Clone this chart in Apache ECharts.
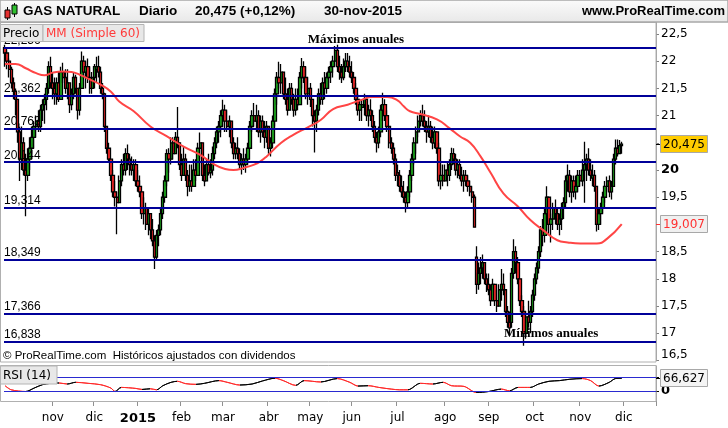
<!DOCTYPE html>
<html><head><meta charset="utf-8">
<script src="https://cdn.jsdelivr.net/npm/echarts@6/dist/echarts.min.js"></script>
<style>html,body{margin:0;padding:0;background:#fff}#c{width:728px;height:428px}</style>
</head><body><div id="c"></div>
<script>
// ---- daily candles, Oct 1 2014 .. Nov 30 2015 (index 0..297) ----
const opens = [
22.25,22.15,22.0,21.85,21.6,21.45,21.3,20.7,20.2,20.5,
20.0,19.9,20.2,20.4,20.6,20.8,20.9,20.8,21.1,21.2,
21.3,21.5,21.9,21.6,21.5,21.4,21.6,21.3,21.8,21.7,
21.5,21.6,21.2,21.4,21.7,21.5,21.1,21.5,22.0,21.8,
21.9,21.7,21.5,21.7,21.85,21.9,21.8,21.5,21.4,20.8,
20.4,20.2,19.9,19.6,19.5,19.4,19.8,20.1,20.0,20.3,
20.2,20.1,20.0,20.1,19.8,19.7,19.6,19.2,19.3,19.0,
19.2,18.9,18.7,18.4,18.8,18.9,19.2,19.5,19.8,20.3,
20.2,20.5,20.3,20.6,20.5,20.1,19.9,20.2,19.9,19.7,
19.8,19.7,20.0,19.9,20.4,20.5,19.9,19.8,20.1,19.95,
20.0,20.3,20.5,20.7,20.8,21.0,21.1,20.9,20.8,20.9,
20.5,20.3,20.4,20.3,20.1,20.2,20.1,20.2,20.4,20.8,
21.0,20.9,21.0,20.7,20.9,20.7,20.6,20.8,20.4,20.5,
20.9,21.4,21.7,21.6,21.8,21.4,21.3,21.1,21.5,21.3,
21.1,21.3,21.2,21.7,21.9,21.7,21.4,21.5,21.3,21.0,
20.9,21.1,21.4,21.3,21.6,21.5,21.7,21.8,21.9,22.0,
22.2,21.9,21.8,21.7,21.9,22.0,21.9,21.8,21.7,21.5,
21.3,21.1,21.15,21.2,21.3,21.0,21.1,21.0,20.8,20.6,
20.5,20.7,21.1,21.2,21.0,20.8,20.5,20.4,20.2,19.95,
19.9,19.7,19.6,19.5,19.4,19.6,19.9,20.2,20.5,20.7,
20.9,21.0,20.9,20.8,20.7,20.8,20.6,20.5,20.7,20.4,
19.8,19.9,19.8,20.0,19.9,20.1,20.3,20.2,20.0,20.1,
19.9,19.8,19.9,19.8,19.7,19.6,19.5,18.4,17.9,18.1,
18.2,18.3,18.0,17.9,17.8,17.6,17.9,17.6,17.5,17.8,
17.9,17.8,17.4,17.2,17.2,18.1,18.5,18.3,18.0,17.6,
17.4,17.0,17.3,17.2,17.4,17.7,18.0,18.2,18.5,18.9,
18.8,19.2,19.5,19.0,19.1,19.3,19.2,19.0,19.1,19.3,
19.4,19.8,19.9,19.6,19.8,19.6,19.7,19.9,19.8,20.0,
20.1,20.2,20.0,19.85,19.9,19.7,19.0,19.2,19.3,19.5,
19.7,19.8,19.6,19.7,20.2,20.4,20.3,20.45];
const closes = [
22.15,22.0,21.85,21.6,21.45,21.3,20.7,20.2,20.5,20.0,
19.9,20.2,20.4,20.6,20.8,20.9,20.8,21.1,21.2,21.3,
21.5,21.9,21.6,21.5,21.4,21.6,21.3,21.8,21.7,21.5,
21.6,21.2,21.4,21.7,21.5,21.1,21.5,22.0,21.8,21.9,
21.7,21.5,21.7,21.9,21.9,21.8,21.5,21.4,20.8,20.4,
20.2,19.9,19.6,19.5,19.4,19.8,20.1,20.0,20.3,20.2,
20.1,20.0,20.1,19.8,19.7,19.6,19.2,19.3,19.0,19.2,
18.9,18.7,18.4,18.8,18.9,19.2,19.5,19.8,20.3,20.2,
20.5,20.3,20.6,20.5,20.1,19.9,20.2,19.9,19.7,19.8,
19.7,20.0,19.9,20.4,20.5,19.9,19.8,20.1,19.95,20.0,
20.3,20.5,20.7,20.8,21.0,21.1,20.9,20.8,20.9,20.5,
20.3,20.4,20.3,20.1,20.2,20.1,20.2,20.4,20.8,21.0,
20.9,21.0,20.7,20.9,20.7,20.6,20.8,20.4,20.5,20.9,
21.4,21.7,21.6,21.8,21.4,21.3,21.1,21.5,21.3,21.1,
21.3,21.2,21.7,21.9,21.7,21.4,21.5,21.3,21.0,20.9,
21.1,21.4,21.3,21.6,21.5,21.7,21.8,21.9,22.0,22.2,
21.9,21.8,21.7,21.9,22.0,21.9,21.8,21.7,21.5,21.3,
21.1,21.2,21.2,21.3,21.0,21.1,21.0,20.8,20.6,20.5,
20.7,21.1,21.2,21.0,20.8,20.5,20.4,20.2,19.9,19.9,
19.7,19.6,19.5,19.4,19.6,19.9,20.2,20.5,20.7,20.9,
21.0,20.9,20.8,20.7,20.8,20.6,20.5,20.7,20.4,19.8,
19.9,19.8,20.0,19.9,20.1,20.3,20.2,20.0,20.1,19.9,
19.8,19.9,19.8,19.7,19.6,19.5,18.95,17.9,18.1,18.2,
18.3,18.0,17.9,17.8,17.6,17.9,17.6,17.5,17.8,17.9,
17.8,17.4,17.2,17.1,18.1,18.5,18.3,18.0,17.6,17.4,
17.0,17.3,17.2,17.4,17.7,18.0,18.2,18.5,18.9,18.8,
19.2,19.5,19.0,19.1,19.3,19.2,19.0,19.1,19.3,19.4,
19.8,19.9,19.6,19.8,19.6,19.7,19.9,19.8,20.0,20.1,
20.2,20.0,19.9,19.9,19.7,19.0,19.2,19.3,19.5,19.7,
19.8,19.6,19.7,20.2,20.4,20.3,20.45,20.475];
const lows = [
21.9,21.85,21.7,21.5,21.3,21.0,20.5,19.8,20.0,19.9,
19.15,19.8,20.0,20.3,20.4,20.6,20.7,20.7,20.9,20.85,
21.1,21.4,21.5,21.3,21.2,21.2,21.25,21.3,21.6,21.4,
21.3,21.05,21.1,21.3,21.4,20.93,21.0,21.5,21.7,21.5,
21.6,21.4,21.4,21.5,21.6,21.7,21.4,21.3,20.7,20.3,
20.14,19.8,19.5,19.33,18.82,19.4,19.7,19.9,19.9,20.0,
19.9,19.9,19.8,19.7,19.6,19.5,19.1,19.0,18.9,18.8,
18.73,18.6,18.18,18.36,18.6,18.8,19.1,19.4,19.7,19.95,
20.1,20.2,20.3,20.4,20.0,19.8,19.9,19.8,19.52,19.6,
19.6,19.7,19.8,19.9,20.2,19.8,19.7,19.8,19.9,19.85,
19.9,20.2,20.4,20.5,20.6,20.8,20.7,20.7,20.6,20.4,
20.2,20.2,20.2,20.0,19.92,20.0,19.95,20.1,20.4,20.7,
20.8,20.7,20.6,20.5,20.6,20.4,20.5,20.3,20.25,20.4,
20.8,21.2,21.5,21.4,21.3,21.2,21.0,21.1,21.2,20.98,
21.0,21.1,21.2,21.5,21.6,21.3,21.2,21.16,20.8,20.32,
20.7,21.0,21.2,21.2,21.3,21.4,21.5,21.6,21.7,21.9,
21.8,21.66,21.6,21.65,21.8,21.8,21.7,21.6,21.4,21.2,
21.0,20.9,20.9,21.0,20.9,20.8,20.9,20.7,20.5,20.32,
20.4,20.6,20.9,20.9,20.7,20.4,20.3,20.1,19.8,19.7,
19.6,19.5,19.4,19.22,19.3,19.5,19.8,20.1,20.3,20.6,
20.8,20.8,20.7,20.5,20.6,20.5,20.38,20.4,20.3,19.7,
19.64,19.7,19.8,19.7,19.8,20.0,20.1,19.9,19.85,19.83,
19.7,19.6,19.7,19.6,19.52,19.4,18.95,17.72,17.8,17.9,
18.0,17.9,17.76,17.7,17.5,17.6,17.5,17.39,17.5,17.6,
17.7,17.3,17.1,16.95,17.1,18.0,18.1,17.9,17.5,17.3,
16.77,16.9,17.1,17.0,17.3,17.6,17.9,18.1,18.4,18.6,
18.67,18.9,18.8,18.67,18.9,19.0,18.9,18.8,18.9,19.1,
19.3,19.6,19.5,19.4,19.5,19.46,19.6,19.7,19.7,19.4,
19.8,19.9,19.8,19.7,19.6,18.87,18.9,19.0,19.2,19.4,
19.6,19.5,19.46,19.7,20.1,20.25,20.3,20.3];
const highs = [
22.3,22.2,22.05,21.9,21.7,21.5,21.3,20.8,20.8,20.6,
20.3,20.4,20.6,20.8,20.9,21.0,21.1,21.2,21.3,21.4,
21.6,22.0,22.08,21.8,21.7,21.7,21.8,21.9,21.97,21.85,
21.85,21.6,21.5,21.8,21.75,21.5,21.6,22.18,22.1,22.0,
22.05,21.9,21.8,21.95,22.08,22.1,21.9,21.6,21.42,20.8,
20.5,20.2,20.0,19.8,19.6,19.9,20.2,20.3,20.4,20.47,
20.3,20.25,20.2,20.2,20.0,19.9,19.6,19.5,19.4,19.3,
19.2,19.1,18.8,18.9,19.0,19.3,19.6,19.9,20.38,20.4,
20.6,20.6,20.7,21.16,20.5,20.3,20.43,20.3,20.0,20.1,
20.1,20.2,20.2,20.5,20.69,20.5,20.1,20.2,20.3,20.2,
20.43,20.6,20.8,20.9,21.1,21.29,21.2,21.1,21.0,20.9,
20.6,20.5,20.6,20.4,20.3,20.4,20.3,20.5,20.9,21.1,
21.23,21.2,21.1,21.0,21.0,20.9,20.9,20.8,20.6,21.0,
21.5,21.8,21.99,21.95,21.8,21.7,21.5,21.6,21.6,21.4,
21.5,21.5,21.8,22.06,22.0,21.9,21.7,21.6,21.3,21.1,
21.2,21.5,21.6,21.7,21.8,21.79,21.9,22.0,22.1,22.28,
22.3,22.1,21.95,22.05,22.15,22.15,22.1,22.0,21.8,21.6,
21.4,21.3,21.3,21.4,21.35,21.2,21.3,21.1,20.9,20.7,
20.8,21.2,21.42,21.3,21.1,20.8,20.6,20.5,20.3,20.1,
20.0,19.9,19.8,19.6,19.7,20.0,20.3,20.6,20.8,21.0,
21.1,21.2,21.1,20.9,21.0,20.9,20.8,20.8,20.7,20.5,
20.1,20.1,20.1,20.14,20.2,20.41,20.4,20.3,20.2,20.2,
20.06,20.0,20.0,19.9,19.8,19.7,19.55,18.6,18.3,18.4,
18.45,18.3,18.1,18.1,17.9,18.0,17.9,17.8,17.9,18.18,
18.1,17.8,17.5,17.4,18.2,18.73,18.6,18.4,18.0,17.7,
17.5,17.4,17.6,17.5,17.8,18.1,18.3,18.6,18.97,19.1,
19.3,19.7,19.5,19.2,19.4,19.46,19.3,19.2,19.4,19.5,
19.9,20.1,20.0,19.9,19.9,19.9,20.0,20.0,20.2,20.52,
20.3,20.4,20.2,20.1,20.0,19.7,19.3,19.4,19.6,19.8,
19.88,19.9,19.8,20.3,20.56,20.56,20.55,20.52];

// ---- MM (Simple 60), read at selected days ----
const maIdx = [0,5,10,15,19,23,28,32,36,41,46,51,55,62,70,78,86,94,100,106,110,115,120,123,126,133,139,146,152,158,165,171,177,184,189,192,195,200,208,214,219,224,229,234,240,247,253,259,266,271,277,285,290,297];
const maVal = [21.95,21.95,21.87,21.78,21.74,21.79,21.81,21.8,21.75,21.66,21.57,21.44,21.26,21.08,20.8,20.62,20.43,20.28,20.12,20.02,20.0,20.04,20.1,20.16,20.25,20.5,20.65,20.79,20.92,21.12,21.2,21.28,21.34,21.34,21.28,21.17,21.08,21.03,20.93,20.77,20.62,20.5,20.25,19.94,19.57,19.33,19.08,18.9,18.71,18.67,18.65,18.65,18.74,19.007];

// ---- RSI (14), read at selected days ----
const rsiIdx = [0,3,10,14,18,22,26,30,34,40,46,51,53,56,63,66,70,73,76,80,83,87,92,96,103,107,113,119,124,130,134,140,144,152,160,166,170,175,180,186,190,194,200,206,211,215,221,227,233,239,243,247,253,257,262,267,272,278,282,286,291,294,297];
const rsiVal = [45,33,28,38,48,52,53,50,55,52,48,38,28,40,37,34,36,33,45,55,58,51,49,52,60,55,47,50,59,67,60,46,60,56,66,55,44,45,40,35,33,33,52,50,55,45,43,25,28,35,30,40,40,50,58,60,64,66,60,44,55,66,66.6];

// ---- horizontal levels and annotations ----
const levels = [22.256, 21.362, 20.763, 20.144, 19.314, 18.349, 17.366, 16.838];
const rsiLevels = [70, 30];
const maxNote = {idx: 169, value: 22.256, text: 'Máximos anuales'};
const minNote = {idx: 263, value: 16.838, text: 'Mínimos anuales'};
const lastPrice = 20.475, lastMA = 19.007, lastRSI = 66.627;
const holidays = ['2014-12-25','2014-12-26','2015-01-01','2015-04-03','2015-04-06','2015-05-01','2015-12-08','2015-12-25'];
const monthAbbr = ['ene','feb','mar','abr','may','jun','jul','ago','sep','oct','nov','dic'];
const totalSlots = 314;

// trading-day categories
const dates = [];
{
  const d = new Date(Date.UTC(2014, 9, 1));
  while (dates.length < totalSlots) {
    const wd = d.getUTCDay(); const s = d.toISOString().slice(0, 10);
    if (wd !== 0 && wd !== 6 && !holidays.includes(s)) dates.push(s);
    d.setUTCDate(d.getUTCDate() + 1);
  }
}
const isMonthStart = dates.map((s, i) => i > 0 && s.slice(5, 7) !== dates[i - 1].slice(5, 7));

const fmt = (v, d) => v.toFixed(d).replace('.', ',');
const candleData = opens.map((o, i) => [o, closes[i], lows[i], highs[i]]);
const maData = maIdx.map((x, k) => [x, maVal[k]]);
const rsiData = rsiIdx.map((x, k) => [x, rsiVal[k]]);
const rsiPieces = [];
for (let k = 0; k < rsiIdx.length - 1; k++) {
  rsiPieces.push({gte: rsiIdx[k], lt: rsiIdx[k + 1], color: rsiVal[k + 1] > rsiVal[k] ? '#000000' : '#ff2a2a'});
}
rsiPieces.push({gte: rsiIdx[rsiIdx.length - 1], lte: totalSlots, color: '#ff2a2a'});

const SANS = 'DejaVu Sans', LIB = 'Liberation Sans';

const chart = echarts.init(document.getElementById('c'), null, {renderer: 'canvas'});

const baseGraphic = [
  {id:'hdr', type:'rect', z:100, shape:{x:0,y:0,width:728,height:22}, style:{fill:{type:'linear',x:0,y:0,x2:0,y2:1,colorStops:[{offset:0,color:'#fbfbfb'},{offset:1,color:'#e8e8e8'}]}, stroke:'#a8a8a8', lineWidth:1}},
  {id:'ic1', type:'line', z:101, shape:{x1:7.5,y1:7,x2:7.5,y2:20}, style:{stroke:'#000',lineWidth:1}},
  {id:'ic2', type:'rect', z:102, shape:{x:5,y:10,width:5,height:8}, style:{fill:'#e53030',stroke:'#000',lineWidth:1}},
  {id:'ic3', type:'line', z:101, shape:{x1:14.5,y1:3,x2:14.5,y2:17}, style:{stroke:'#000',lineWidth:1}},
  {id:'ic4', type:'rect', z:102, shape:{x:12,y:5,width:5,height:9}, style:{fill:'#2fc02f',stroke:'#000',lineWidth:1}},
  {id:'t1', type:'text', z:101, x:23, y:11.5, style:{text:'GAS NATURAL', fontFamily:LIB, fontWeight:'bold', fontSize:13.5, fill:'#000', verticalAlign:'middle'}},
  {id:'t2', type:'text', z:101, x:139, y:11.5, style:{text:'Diario', fontFamily:LIB, fontWeight:'bold', fontSize:13.5, fill:'#000', verticalAlign:'middle'}},
  {id:'t3', type:'text', z:101, x:195, y:11.5, style:{text:'20,475 (+0,12%)', fontFamily:LIB, fontWeight:'bold', fontSize:13.5, fill:'#000', verticalAlign:'middle'}},
  {id:'t4', type:'text', z:101, x:324, y:11.5, style:{text:'30-nov-2015', fontFamily:LIB, fontWeight:'bold', fontSize:13.5, fill:'#000', verticalAlign:'middle'}},
  {id:'t5', type:'text', z:101, x:725, y:11.5, style:{text:'www.ProRealTime.com', fontFamily:LIB, fontWeight:'bold', fontSize:13, fill:'#000', align:'right', verticalAlign:'middle'}},
  {id:'pmain', type:'rect', z:1, shape:{x:0.5,y:22.5,width:655.5,height:339.5}, style:{fill:'none',stroke:'#b0b0b0',lineWidth:1}},
  {id:'prsi', type:'rect', z:1, shape:{x:0.5,y:365.5,width:655.5,height:36}, style:{fill:'none',stroke:'#b0b0b0',lineWidth:1}},
  {id:'lg1', type:'rect', z:100, shape:{x:0.5,y:24.5,width:42.5,height:17}, style:{fill:'#e8e8e8',stroke:'#b4b4b4',lineWidth:1}},
  {id:'lg1t', type:'text', z:101, x:3, y:33.5, style:{text:'Precio', fontFamily:SANS, fontSize:12, fill:'#000', verticalAlign:'middle'}},
  {id:'lg2', type:'rect', z:100, shape:{x:43,y:24.5,width:101,height:17}, style:{fill:'#e8e8e8',stroke:'#b4b4b4',lineWidth:1}},
  {id:'lg2t', type:'text', z:101, x:46, y:33.5, style:{text:'MM (Simple 60)', fontFamily:SANS, fontSize:12, fill:'#ff3a3a', verticalAlign:'middle'}},
  {id:'copy', type:'text', z:101, x:3, y:355.5, style:{text:'© ProRealTime.com  Históricos ajustados con dividendos', fontFamily:LIB, fontSize:11.5, fill:'#000', verticalAlign:'middle'}},
  {id:'rsib', type:'rect', z:100, shape:{x:0.5,y:366,width:56.5,height:18}, style:{fill:'#e8e8e8',stroke:'#b4b4b4',lineWidth:1}},
  {id:'rsit', type:'text', z:101, x:3, y:375.5, style:{text:'RSI (14)', fontFamily:SANS, fontSize:12, fill:'#000', verticalAlign:'middle'}}
];

const option = {
  animation: false,
  backgroundColor: '#ffffff',
  grid: [
    {left: 4, right: 72, top: 22, bottom: 428 - 360.5, outerBoundsMode: 'none'},
    {left: 4, right: 72, top: 366, height: 35, outerBoundsMode: 'none'}
  ],
  xAxis: [
    {type:'category', gridIndex:0, data:dates, show:false, boundaryGap:true},
    {type:'category', gridIndex:1, data:dates, boundaryGap:true,
     axisLine:{show:false},
     axisTick:{show:true, length:5, interval:(i)=>isMonthStart[i], lineStyle:{color:'#909090'}},
     axisLabel:{interval:(i)=>isMonthStart[i], margin:11, fontFamily:SANS, fontSize:12, color:'#000',
       formatter:(v)=>{const m = +v.slice(5,7)-1; return m===0 ? '{y|'+v.slice(0,4)+'}' : monthAbbr[m];},
       rich:{y:{fontFamily:SANS, fontWeight:'bold', fontSize:13, color:'#000'}}},
     splitLine:{show:false}}
  ],
  yAxis: [
    {type:'value', gridIndex:0, position:'right', min:16.5, max:22.72, interval:0.5,
     axisLine:{show:true, lineStyle:{color:'#a0a0a0'}},
     axisTick:{show:true, length:3, lineStyle:{color:'#808080'}},
     splitLine:{show:false},
     axisLabel:{showMaxLabel:false, margin:5, fontFamily:SANS, fontSize:12, color:'#000',
       formatter:(v)=>{ if (Math.abs(v-20)<1e-9) return '{b|20}'; const s = Number.isInteger(v) ? String(v) : fmt(v,1); if (Math.abs(v-16.5)<1e-9) return '{lo|'+s+'}'; return s; },
       rich:{b:{fontFamily:SANS, fontWeight:'bold', fontSize:13, color:'#000'}, lo:{fontFamily:SANS, fontSize:12, color:'#000', padding:[0,0,12,0]}}}},
    {type:'value', gridIndex:1, position:'right', min:0, max:103,
     axisLine:{show:true, lineStyle:{color:'#a0a0a0'}},
     axisTick:{show:true, length:3, customValues:rsiLevels, lineStyle:{color:'#000'}},
     splitLine:{show:false},
     axisLabel:{customValues:[30], margin:5, fontFamily:SANS, fontSize:13, fontWeight:'bold', color:'#000', formatter:()=> '0'}}
  ],
  visualMap: [{type:'piecewise', show:false, seriesIndex:2, dimension:0, pieces:rsiPieces}],
  series: [
    {type:'candlestick', name:'Precio', xAxisIndex:0, yAxisIndex:0, data:candleData, barWidth:2.8,
     itemStyle:{color:'#1fae1f', color0:'#ff2a2a', borderColor:'#000', borderColor0:'#000', borderColorDoji:'#000', borderWidth:1.3},
     markLine:{silent:true, symbol:['none','none'], animation:false, precision:3,
       lineStyle:{color:'#000099', width:2, type:'solid'},
       label:{show:true, position:'insideStartTop', distance:[0,1], formatter:(p)=>p.name, fontFamily:LIB, fontSize:12, color:'#000'},
       data: levels.map(v=>({yAxis:v, name:fmt(v,3)}))},
     markPoint:{silent:true, symbol:'circle', symbolSize:1, itemStyle:{color:'rgba(0,0,0,0)'},
       label:{show:true, position:'top', distance:1, fontFamily:'Liberation Serif', fontWeight:'bold', fontSize:13, color:'#000', formatter:(p)=>p.name},
       data:[{name:maxNote.text, coord:[maxNote.idx, maxNote.value]},{name:minNote.text, coord:[minNote.idx, minNote.value]}]}},
    {type:'line', name:'MM (Simple 60)', xAxisIndex:0, yAxisIndex:0, data:maData, smooth:true, showSymbol:false, z:3,
     lineStyle:{color:'#ff4545', width:2}},
    {type:'line', name:'RSI (14)', xAxisIndex:1, yAxisIndex:1, data:rsiData, smooth:0.3, showSymbol:false,
     lineStyle:{width:1},
     markLine:{silent:true, symbol:['none','none'], label:{show:false}, lineStyle:{color:'#2a2ad0', width:1, type:'solid'},
       data: rsiLevels.map(v=>({yAxis:v}))}}
  ],
  graphic: baseGraphic
};
chart.setOption(option);

// value tags on the right axis, placed through the axes' own scales
const yP = chart.convertToPixel({yAxisIndex:0}, lastPrice);
const yM = chart.convertToPixel({yAxisIndex:0}, lastMA);
const yR = chart.convertToPixel({yAxisIndex:1}, lastRSI);
const tag = (id, y, text, fill, color, tick) => ([
  {id:id+'k', type:'line', z:110, shape:{x1:656,y1:Math.round(y)+0.5,x2:660,y2:Math.round(y)+0.5}, style:{stroke:tick,lineWidth:1}},
  {id:id+'r', type:'rect', z:110, shape:{x:660.5,y:Math.round(y)-8.5,width:47,height:17}, style:{fill:fill,stroke:'#a8a8a8',lineWidth:1}},
  {id:id+'t', type:'text', z:111, x:684, y:Math.round(y)+0.5, style:{text:text, fontFamily:SANS, fontSize:12, fill:color, align:'center', verticalAlign:'middle'}}
]);
chart.setOption({graphic: baseGraphic.concat(
  tag('tp', yP, fmt(lastPrice,3), '#ffcc00', '#000', '#000'),
  tag('tm', yM, fmt(lastMA,3), '#f0f0f0', '#ff3030', '#ff3030'),
  tag('tr', yR, fmt(lastRSI,3), '#f4f4f4', '#000', '#000')
)});
</script>
</body></html>
